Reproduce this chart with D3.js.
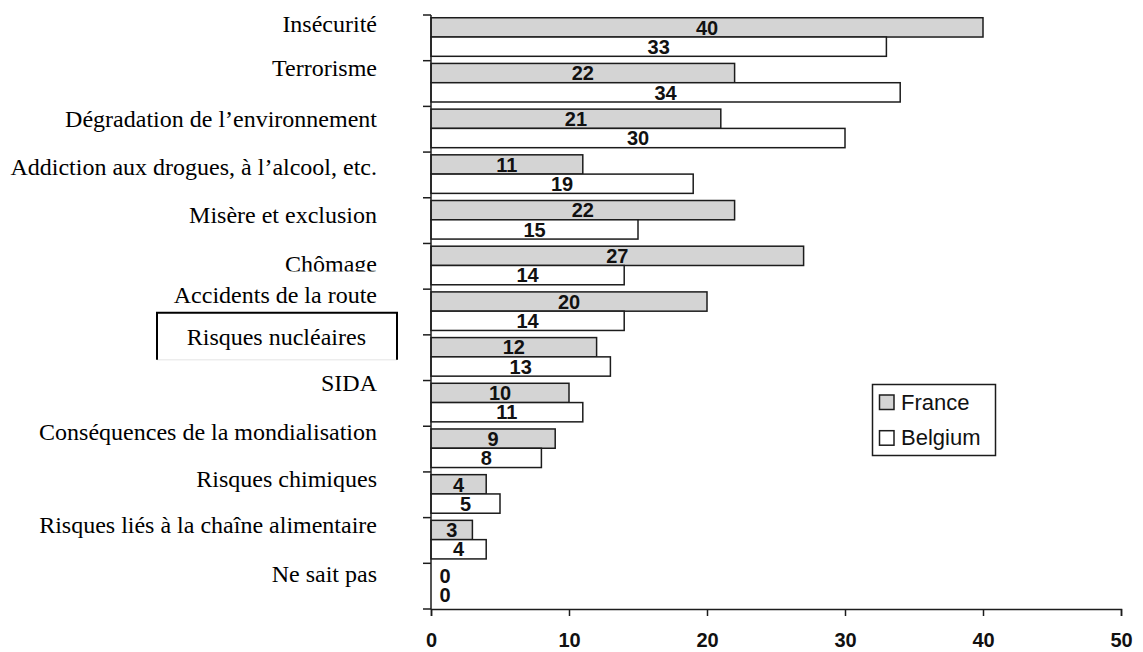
<!DOCTYPE html>
<html>
<head>
<meta charset="utf-8">
<script src="https://cdn.jsdelivr.net/npm/d3@7"></script>
<style>
  html, body { margin: 0; padding: 0; background: #fff; }
  svg { display: block; }
</style>
</head>
<body>
<svg id="chart" width="1143" height="652"></svg>
<script>
// ---- data ----
const categories = [
  "Insécurité",
  "Terrorisme",
  "Dégradation de l’environnement",
  "Addiction aux drogues, à l’alcool, etc.",
  "Misère et exclusion",
  "Chômage",
  "Accidents de la route",
  "Risques nucléaires",
  "SIDA",
  "Conséquences de la mondialisation",
  "Risques chimiques",
  "Risques liés à la chaîne alimentaire",
  "Ne sait pas"
];
const france  = [40, 22, 21, 11, 22, 27, 20, 12, 10, 9, 4, 3, 0];
const belgium = [33, 34, 30, 19, 15, 14, 14, 13, 11, 8, 5, 4, 0];
const seriesNames = ["France", "Belgium"];
const xTicks = [0, 10, 20, 30, 40, 50];

// ---- layout (not data) ----
const labelNudge = [16.7, 15.3, 20.6, 22.9, 24.9, 29, 14.1, 10.1, 10.1, 13.7, 14.7, 15.6, 18.3];
const W = 1143, H = 652;
const x0 = 431, x1 = 1121, yTop = 15, yBot = 609;
const ink = "#1c1c1c";

const svg = d3.select("#chart");

const x = d3.scaleLinear().domain([0, 50]).range([x0, x1]);
const y = d3.scaleBand().domain(categories).range([yTop, yBot]).paddingInner(0).paddingOuter(0);
const bw = y.bandwidth();
const barH = bw * 0.422;
const barOff = bw * 0.06;

const fills = ["#d4d4d4", "#ffffff"];
const series = [france, belgium];

// bars
series.forEach((vals, si) => {
  svg.append("g").selectAll("rect")
    .data(categories)
    .join("rect")
    .attr("x", x(0))
    .attr("y", (c) => y(c) + barOff + si * barH)
    .attr("width", (c, i) => x(vals[i]) - x(0))
    .attr("height", barH)
    .attr("fill", fills[si])
    .attr("stroke", ink)
    .attr("stroke-width", (c, i) => vals[i] === 0 ? 0 : 1.5);
});

// value labels
series.forEach((vals, si) => {
  svg.append("g").selectAll("text")
    .data(categories)
    .join("text")
    .attr("x", (c, i) => Math.max((x(0) + x(vals[i])) / 2, x(0) + 14))
    .attr("y", (c) => y(c) + barOff + si * barH + barH / 2)
    .attr("dy", "0.36em")
    .attr("text-anchor", "middle")
    .attr("font-family", "Liberation Sans, Arial, sans-serif")
    .attr("font-weight", "bold")
    .attr("font-size", 20)
    .attr("fill", "#111")
    .text((c, i) => vals[i]);
});

// y axis line and ticks at band boundaries
const boundaries = categories.map((c) => y(c)).concat([yBot]);
svg.append("line")
  .attr("x1", x0).attr("x2", x0).attr("y1", yTop).attr("y2", yBot)
  .attr("stroke", ink).attr("stroke-width", 1.5);
svg.append("g").selectAll("line")
  .data(boundaries)
  .join("line")
  .attr("x1", x0 - 8).attr("x2", x0)
  .attr("y1", (d) => d).attr("y2", (d) => d)
  .attr("stroke", ink).attr("stroke-width", 1.5);

// x axis
const xAxis = svg.append("g")
  .attr("transform", `translate(0,${yBot})`)
  .call(d3.axisBottom(x).tickValues(xTicks).tickSize(7).tickPadding(17).tickSizeOuter(7));
xAxis.select(".domain").attr("stroke", ink).attr("stroke-width", 1.5);
xAxis.selectAll(".tick line").attr("stroke", ink).attr("stroke-width", 1.5);
xAxis.selectAll(".tick text")
  .attr("font-family", "Liberation Sans, Arial, sans-serif")
  .attr("font-weight", "bold")
  .attr("font-size", 20)
  .attr("fill", "#111");

// category labels
const defs = svg.append("defs");
defs.append("clipPath").attr("id", "clipChomage")
  .append("rect").attr("x", 0).attr("y", 0).attr("width", 420).attr("height", 271.5);

svg.append("g").selectAll("text")
  .data(categories)
  .join("text")
  .attr("x", (c) => c === "Risques nucléaires" ? 366 : 377)
  .attr("y", (c, i) => y(c) + labelNudge[i])
  .attr("text-anchor", "end")
  .attr("font-family", "Liberation Serif, 'Times New Roman', serif")
  .attr("font-size", 24)
  .attr("fill", "#000")
  .attr("clip-path", (c) => c === "Chômage" ? "url(#clipChomage)" : null)
  .text((c) => c);

// box around "Risques nucléaires" (open at bottom)
const ri = categories.indexOf("Risques nucléaires");
const boxTop = y(categories[ri]) - 22;
svg.append("line")
  .attr("x1", 157).attr("x2", 397).attr("y1", boxTop + 47).attr("y2", boxTop + 47)
  .attr("stroke", "#e4e4e4").attr("stroke-width", 1);
svg.append("path")
  .attr("d", `M157,${boxTop + 47} V${boxTop} H397 V${boxTop + 47}`)
  .attr("fill", "none").attr("stroke", "#000").attr("stroke-width", 2);

// legend
const lg = svg.append("g");
lg.append("rect")
  .attr("x", 872.5).attr("y", 384.5).attr("width", 123).attr("height", 71)
  .attr("fill", "#fff").attr("stroke", ink).attr("stroke-width", 1.5);
seriesNames.forEach((name, i) => {
  const yy = 395 + i * 35.7;
  lg.append("rect")
    .attr("x", 879.5).attr("y", yy).attr("width", 14.5).attr("height", 14.5)
    .attr("fill", fills[i]).attr("stroke", ink).attr("stroke-width", 1.5);
  lg.append("text")
    .attr("x", 901).attr("y", yy + 14.5)
    .attr("font-family", "Liberation Sans, Arial, sans-serif")
    .attr("font-size", 22)
    .attr("fill", "#111")
    .text(name);
});
</script>
</body>
</html>
